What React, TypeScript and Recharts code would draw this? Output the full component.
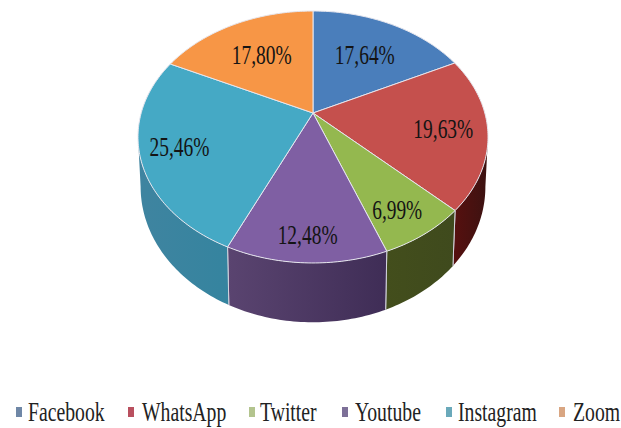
import React from 'react';
import { PieChart, Pie, Legend } from 'recharts';

const platforms = ['Facebook', 'WhatsApp', 'Twitter', 'Youtube', 'Instagram', 'Zoom'];
const shares = [17.64, 19.63, 6.99, 12.48, 25.46, 17.8];
const topColors = ['#4a7ebb', '#c5504d', '#94b84f', '#7f5fa3', '#45a9c5', '#f79646'];
const markerColors = ['#6f87a6', '#b9505f', '#b3c48e', '#7d7098', '#6aa9ba', '#d9a682'];
const wallColors = [
  ['#2b4a70', '#2b4a70'],
  ['#57100f', '#3c1211'],
  ['#434e1c', '#3f4a1d'],
  ['#5a4470', '#3f2d56'],
  ['#3f84a0', '#35849f'],
  ['#94591f', '#94591f'],
];
const labelNudges = [
  [-5, 7],
  [9, 3],
  [10, 17],
  [-1, 24],
  [-15, 4],
  [6, 7],
];
const legendSlots = [
  { marker: 16, text: 28 },
  { marker: 128, text: 142 },
  { marker: 249, text: 260 },
  { marker: 342, text: 355 },
  { marker: 446, text: 458 },
  { marker: 559, text: 573 },
];

const rows = platforms.map((name, i) => ({ name, value: shares[i], fill: topColors[i] }));

// Perspective tilt of the disc: far edge recedes, near edge swells.
const TILT = 0.1905;
const SQUASH = 0.7066;
const WALL = 48;
const WALL_TAPER = 0.985;
const FRONT_FROM = 101;
const FRONT_TO = 259;
// Legend type is set narrow, as a condensed serif.
const LEGEND_NARROWING = 0.73;

type Pt = [number, number];

function project(cx: number, cy: number, R: number, deg: number, r = 1): Pt {
  const t = (deg * Math.PI) / 180;
  const u = Math.sin(t);
  const v = Math.cos(t);
  const w = 1 + TILT * r * v;
  return [cx + (R * r * u) / w, cy - (R * SQUASH * r * v) / w];
}

function rim(cx: number, cy: number, R: number, deg: number): { top: Pt; bottom: Pt } {
  const top = project(cx, cy, R, deg);
  const w = 1 + TILT * Math.cos((deg * Math.PI) / 180);
  return { top, bottom: [cx + (top[0] - cx) * WALL_TAPER, top[1] + WALL / w] };
}

function sweep(a: number, b: number): number[] {
  const out: number[] = [];
  for (let d = a; d < b; d += 1) out.push(d);
  out.push(b);
  return out;
}

const toPath = (pts: Pt[]) =>
  pts.map((p, i) => `${i ? 'L' : 'M'}${p[0].toFixed(2)} ${p[1].toFixed(2)}`).join('') + 'Z';

function Slice(props: any) {
  const { cx, cy, outerRadius, startAngle, endAngle, index, fill } = props;
  const a = 90 - startAngle;
  const b = 90 - endAngle;
  const from = Math.max(a, FRONT_FROM);
  const to = Math.min(b, FRONT_TO);
  const hasWall = to > from;
  const degs = sweep(a, b);
  const id = `wall-${index}`;
  let wall = null;
  if (hasWall) {
    const wallDegs = sweep(from, to);
    const rims = wallDegs.map((d) => rim(cx, cy, outerRadius, d));
    const outline = [...rims.map((r) => r.top), ...rims.map((r) => r.bottom).reverse()];
    const first = rims[0];
    const last = rims[rims.length - 1];
    wall = (
      <g>
        <defs>
          <linearGradient id={id} x1="0" x2="1" y1="0" y2="0">
            <stop offset="0" stopColor={wallColors[index][0]} />
            <stop offset="1" stopColor={wallColors[index][1]} />
          </linearGradient>
        </defs>
        <path d={toPath(outline)} fill={`url(#${id})`} />
        {a >= FRONT_FROM && (
          <line x1={first.top[0]} y1={first.top[1]} x2={first.bottom[0]} y2={first.bottom[1]} stroke="#d4d4de" strokeWidth={1} />
        )}
        {b <= FRONT_TO && (
          <line x1={last.top[0]} y1={last.top[1]} x2={last.bottom[0]} y2={last.bottom[1]} stroke="#d4d4de" strokeWidth={1} />
        )}
      </g>
    );
  }
  return (
    <g>
      {wall}
      <path
        d={toPath([[cx, cy], ...degs.map((d) => project(cx, cy, outerRadius, d))])}
        fill={fill}
        stroke="#e6e6ee"
        strokeWidth={1}
        strokeLinejoin="round"
      />
    </g>
  );
}

function ShareLabel(props: any) {
  const { cx, cy, outerRadius, midAngle, index, value } = props;
  const [x, y] = project(cx, cy, outerRadius, 90 - midAngle, 0.7);
  const text = `${value.toFixed(2).replace('.', ',')}%`;
  return (
    <text
      x={x + labelNudges[index][0]}
      y={y + labelNudges[index][1]}
      textAnchor="middle"
      dominantBaseline="central"
      fontFamily="'Liberation Serif', serif"
      fontSize={27}
      fill="#141414"
      textLength={index === 2 ? 50 : 60}
      lengthAdjust="spacingAndGlyphs"
    >
      {text}
    </text>
  );
}

function LegendRow() {
  return (
    <svg width={621} height={40} style={{ display: 'block' }}>
      {platforms.map((name, i) => (
        <g key={name}>
          <rect x={legendSlots[i].marker} y={19} width={6} height={10} fill={markerColors[i]} />
          <text
            transform={`translate(${legendSlots[i].text} 33) scale(${LEGEND_NARROWING} 1)`}
            fontFamily="'Liberation Serif', serif"
            fontSize={27}
            fill="#222222"
          >
            {name}
          </text>
        </g>
      ))}
    </svg>
  );
}

export default function App() {
  return (
    <div style={{ position: 'absolute', left: 0, top: 0, width: 621, height: 428, background: '#ffffff' }}>
      <PieChart width={621} height={428} margin={{ top: 0, right: 0, bottom: 0, left: 0 }}>
        <Pie
          data={rows}
          dataKey="value"
          nameKey="name"
          cx={313}
          cy={113}
          outerRadius={171.8}
          startAngle={90}
          endAngle={-270}
          stroke="none"
          shape={Slice}
          label={ShareLabel}
          labelLine={false}
          isAnimationActive={false}
        />
        <Legend
          content={<LegendRow />}
          wrapperStyle={{ position: 'absolute', left: 0, top: 388, width: 621, height: 40 }}
        />
      </PieChart>
    </div>
  );
}
